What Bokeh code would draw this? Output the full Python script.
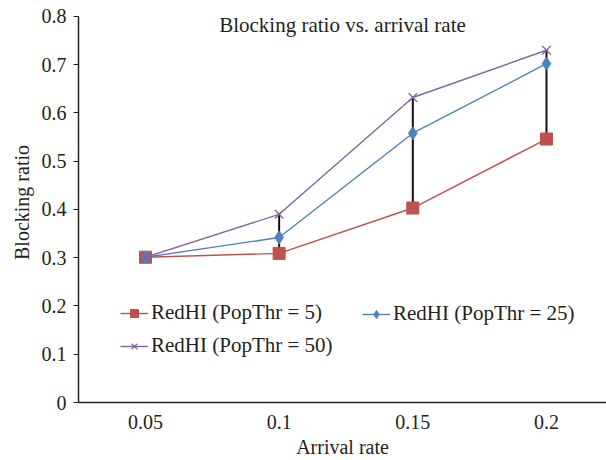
from bokeh.plotting import figure
from bokeh.models import Range1d, FixedTicker, Legend, LegendItem, Label
from bokeh.embed import file_html
from bokeh.resources import INLINE

categories = ["0.05", "0.1", "0.15", "0.2"]
thr5 = [0.301, 0.309, 0.403, 0.546]
thr25 = [0.301, 0.342, 0.558, 0.702]
thr50 = [0.301, 0.390, 0.632, 0.730]
series_names = ["RedHI (PopThr = 5)", "RedHI (PopThr = 25)", "RedHI (PopThr = 50)"]
y_ticks = [0, 0.1, 0.2, 0.3, 0.4, 0.5, 0.6, 0.7, 0.8]
y_tick_labels = ["0", "0.1", "0.2", "0.3", "0.4", "0.5", "0.6", "0.7", "0.8"]
chart_title = "Blocking ratio vs. arrival rate"

FONT = "Liberation Serif"
TXT = "#231f20"
xs = list(range(len(categories)))

p = figure(width=606, height=460, output_backend="svg", toolbar_location=None,
           x_range=Range1d(-0.501, 3.449), y_range=Range1d(0, 0.8289),
           min_border_left=78, min_border_right=0, min_border_top=2, min_border_bottom=56)
p.outline_line_color = None
p.grid.visible = False
p.background_fill_color = "white"

# axes
p.xaxis.ticker = FixedTicker(ticks=xs)
p.xaxis.major_label_overrides = {i: c for i, c in zip(xs, categories)}
p.xaxis.major_tick_line_color = None
p.xaxis.minor_tick_line_color = None
p.xaxis.axis_line_color = "#222222"
p.xaxis.axis_line_width = 1.5
p.xaxis.major_label_standoff = 6
p.xaxis.axis_label = "Arrival rate"
p.xaxis.axis_label_standoff = 4

p.yaxis.ticker = FixedTicker(ticks=y_ticks)
p.yaxis.bounds = (0, 0.8)
p.yaxis.major_label_overrides = {t: l for t, l in zip(y_ticks, y_tick_labels)}
p.yaxis.minor_tick_line_color = None
p.yaxis.major_tick_out = 5
p.yaxis.major_tick_in = 0
p.yaxis.major_tick_line_color = "#222222"
p.yaxis.axis_line_color = "#222222"
p.yaxis.axis_line_width = 1.5
p.yaxis.major_label_standoff = 7
p.yaxis.axis_label = "Blocking ratio"
p.yaxis.axis_label_standoff = 6

for ax in (p.xaxis, p.yaxis):
    ax.major_label_text_font = FONT
    ax.major_label_text_font_size = "20px"
    ax.major_label_text_color = TXT
    ax.axis_label_text_font = FONT
    ax.axis_label_text_font_size = "20px"
    ax.axis_label_text_font_style = "normal"
    ax.axis_label_text_color = TXT

# high-low lines
lows = [min(a, b, c) for a, b, c in zip(thr5, thr25, thr50)]
highs = [max(a, b, c) for a, b, c in zip(thr5, thr25, thr50)]
p.segment(x0=xs, y0=lows, x1=xs, y1=highs, line_color="#111111", line_width=2)

RED, BLUE, PURPLE = "#C0504D", "#4F81BD", "#8064A2"

l1 = p.line(xs, thr5, line_color=RED, line_width=1.4)
m1 = p.scatter(xs, thr5, marker="square", size=12, fill_color=RED, line_color=RED)
l2 = p.line(xs, thr25, line_color=BLUE, line_width=1.4)
m2 = p.scatter(xs, thr25, marker="diamond", size=13, fill_color=BLUE, line_color=BLUE)
l3 = p.line(xs, thr50, line_color=PURPLE, line_width=1.4)
m3 = p.scatter(xs, thr50, marker="x", size=12, line_color=PURPLE, line_width=1.3)

common = dict(background_fill_alpha=0, border_line_color=None,
              label_text_font=FONT, label_text_font_size="21px", label_text_color=TXT,
              glyph_width=28, glyph_height=20, label_standoff=3, padding=0, margin=0,
              spacing=8)
legend_a = Legend(items=[
    LegendItem(label=series_names[0], renderers=[l1, m1]),
    LegendItem(label=series_names[2], renderers=[l3, m3]),
], location=(42, 44), **common)
legend_b = Legend(items=[
    LegendItem(label=series_names[1], renderers=[l2, m2]),
], location=(284, 76), **common)
p.add_layout(legend_a, "center")
p.add_layout(legend_b, "center")

title = Label(x=(-0.501 + 3.449) / 2, y=0.7814, text=chart_title,
              text_align="center", text_baseline="alphabetic", text_font=FONT,
              text_font_size="21px", text_color=TXT)
p.add_layout(title)

open("out.html", "w").write(file_html(p, INLINE))
